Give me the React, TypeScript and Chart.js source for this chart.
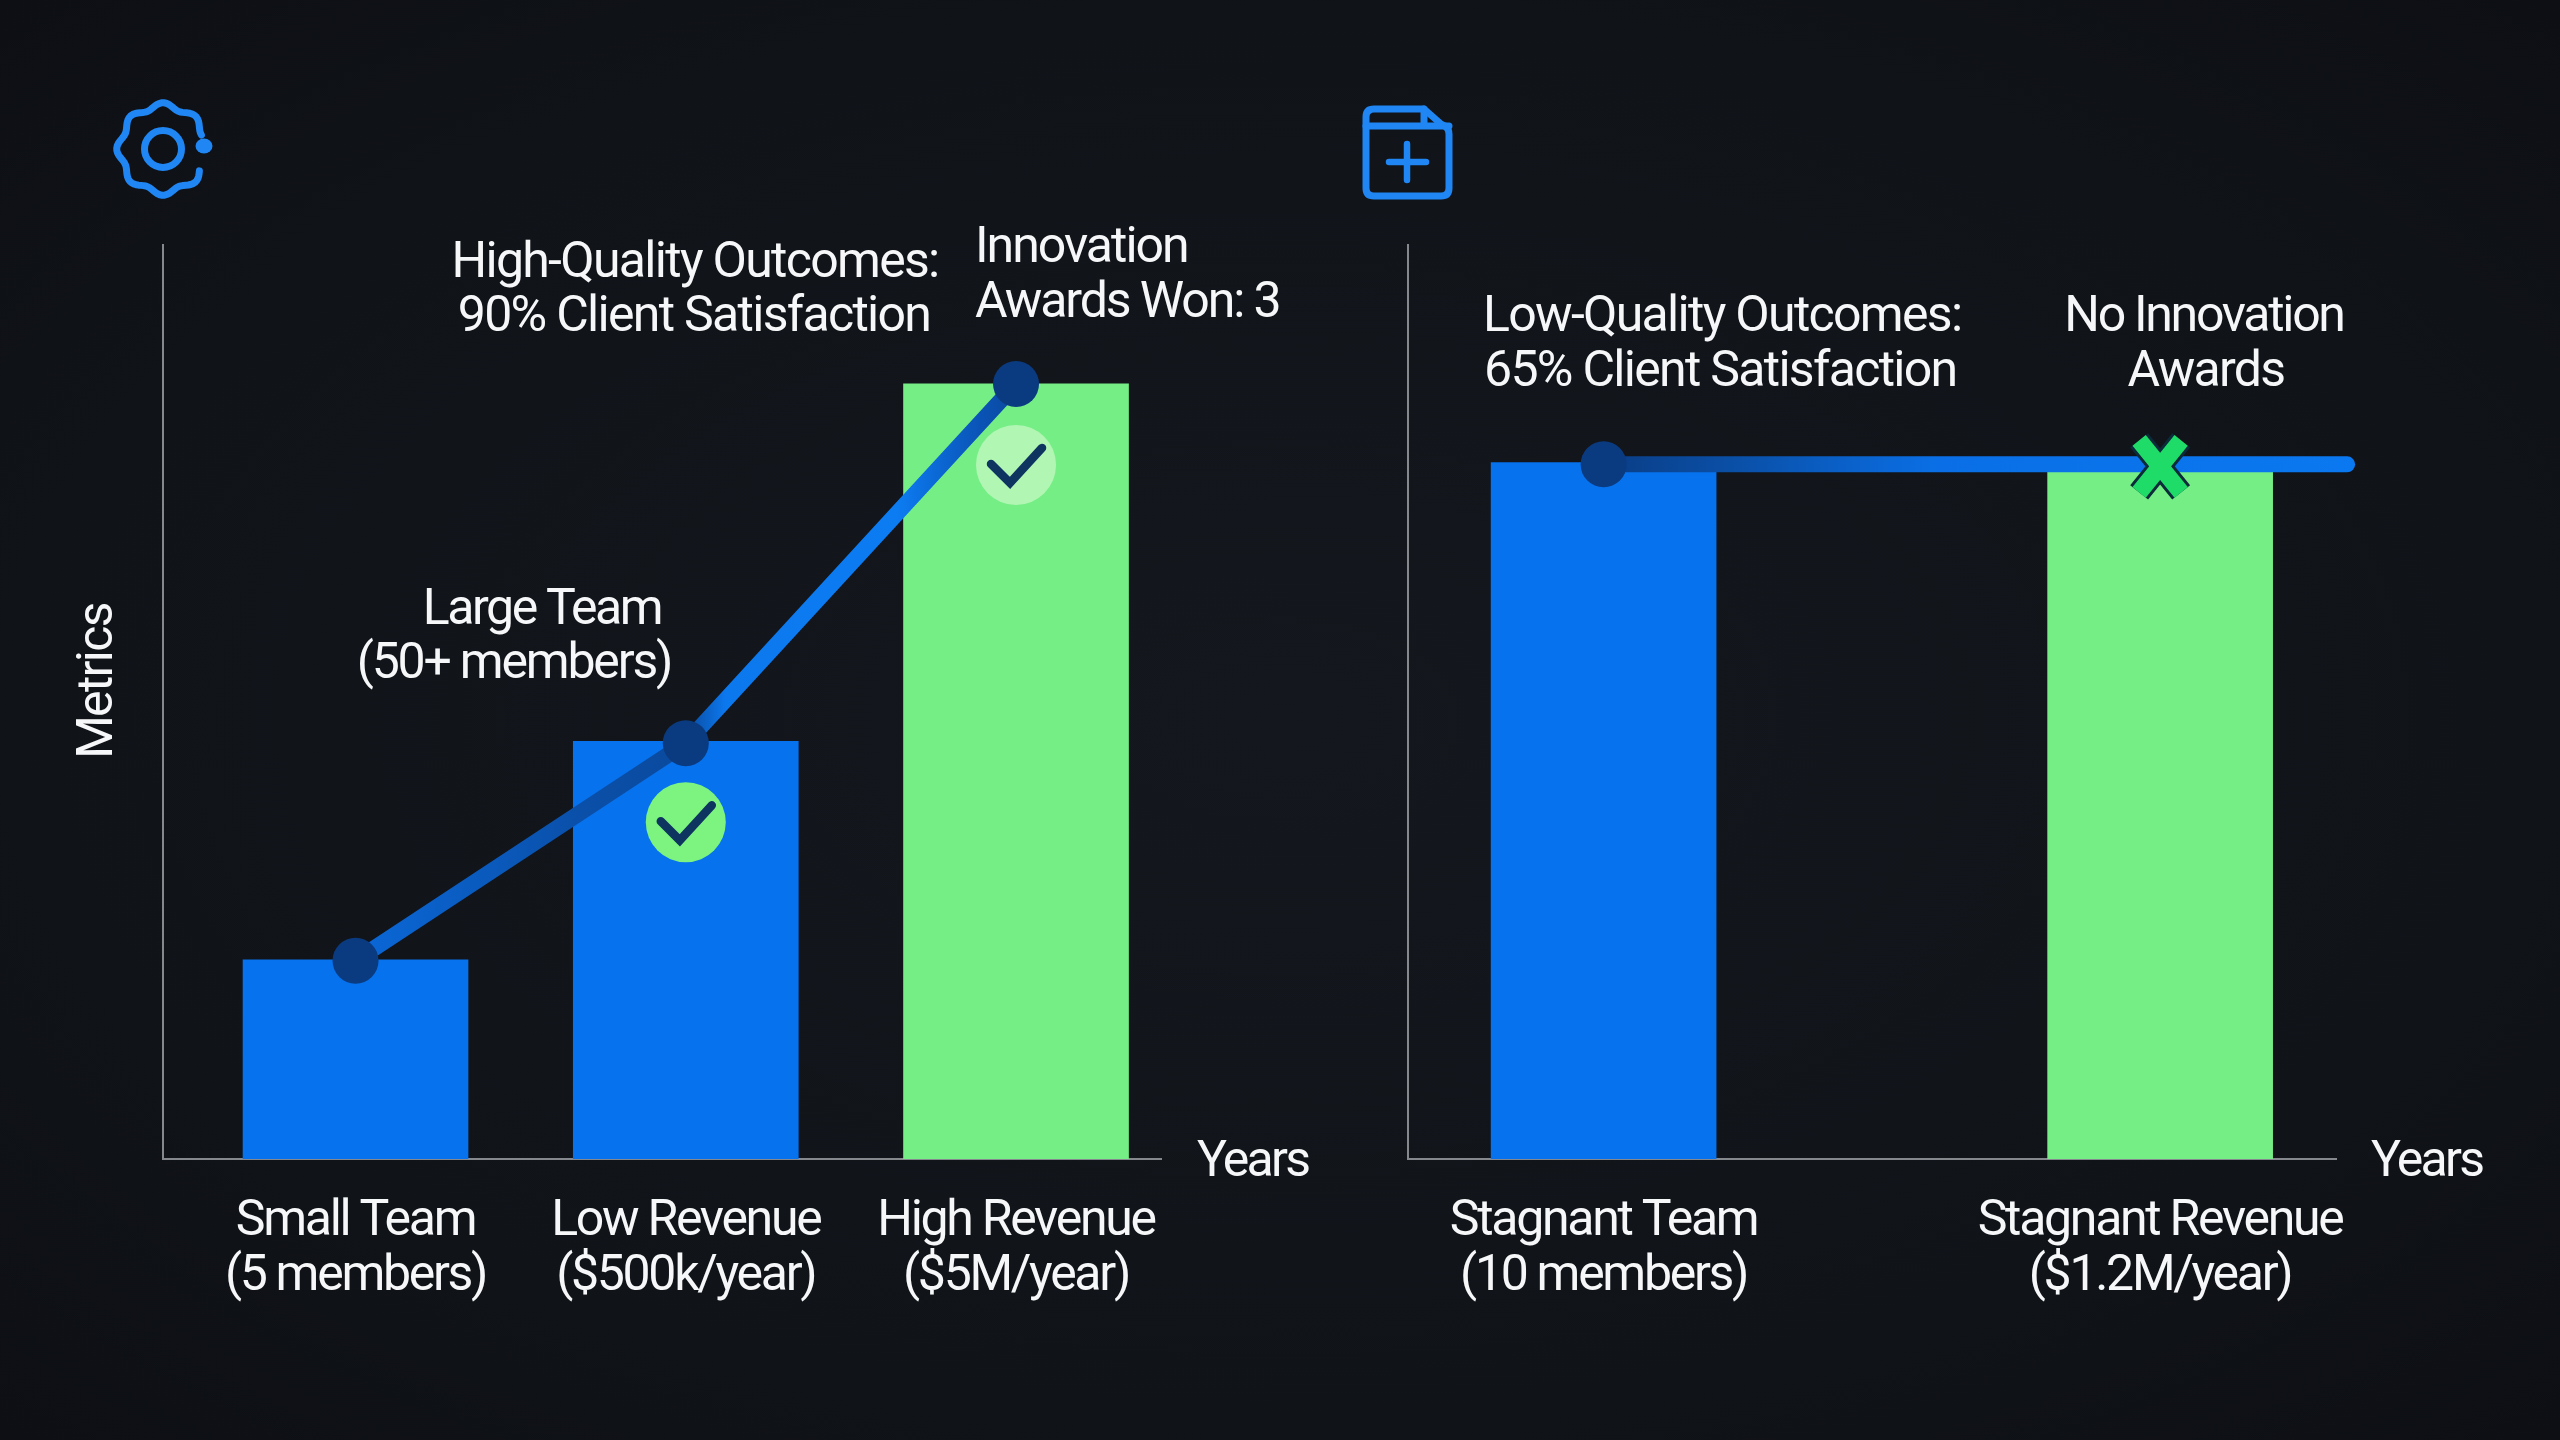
import React, { useEffect, useRef } from "react";
import { Chart, registerables } from "chart.js";

Chart.register(...registerables);

// ---- data ----
const leftCategories = [["Small Team", "(5 members)"], ["Low Revenue", "($500k/year)"], ["High Revenue", "($5M/year)"]];
const leftBarPositions = [1, 2, 3];
const leftBarValues = [21.8, 45.7, 84.8];
const leftLinePositions = [1, 2, 3];
const leftLineValues = [21.7, 45.5, 84.8];

const rightCategories = [["Stagnant Team", "(10 members)"], ["Stagnant Revenue", "($1.2M/year)"]];
const rightBarPositions = [1, 2];
const rightBarValues = [76.2, 76.2];
const rightLinePositions = [1, 2, 2.336];
const rightLineValues = [76.0, 76.0, 76.0];

// ---- style ----
const BLUE = "#0672ee";
const GREEN = "#75ee86";
const POINT = "#0a3b80";
const AXIS = "#85888d";
const TEXT = "#f6f7f8";
const ICON = "#1f86f3";
const FONT = "Roboto";
const FS = 50;
const SPACING = "-1.7px";
const TICK_SPACING = "-2.3px";

type Label = { t: string; x: number; y: number; a?: CanvasTextAlign; s?: string };

const leftLabels: Label[] = [
  { t: "High-Quality Outcomes:", x: 695, y: 264 },
  { t: "90% Client Satisfaction", x: 694, y: 318 },
  { t: "Innovation", x: 975, y: 249, a: "left", s: "-2px" },
  { t: "Awards Won: 3", x: 975, y: 304, a: "left", s: "-2.1px" },
  { t: "Large Team", x: 542, y: 611, s: "-2.4px" },
  { t: "(50+ members)", x: 514, y: 665, s: "-2.2px" },
  { t: "Years", x: 1197, y: 1163, a: "left", s: "-2.7px" },
];
const rightLabels: Label[] = [
  { t: "Low-Quality Outcomes:", x: 1483, y: 318, a: "left" },
  { t: "65% Client Satisfaction", x: 1484, y: 373, a: "left" },
  { t: "No Innovation", x: 2204, y: 318, s: "-2.3px" },
  { t: "Awards", x: 2206, y: 373 },
  { t: "Years", x: 2371, y: 1163, a: "left", s: "-2.7px" },
];

function drawGear(ctx: CanvasRenderingContext2D) {
  const cx = 163, cy = 149;
  ctx.strokeStyle = ICON;
  ctx.fillStyle = ICON;
  ctx.lineCap = "round";
  ctx.lineJoin = "round";
  ctx.lineWidth = 7;
  ctx.beginPath();
  ctx.arc(cx, cy, 18.5, 0, Math.PI * 2);
  ctx.stroke();
  ctx.beginPath();
  for (let d = -20; d >= -330; d -= 3) {
    const th = (d * Math.PI) / 180;
    const r = 43.5 + 2.8 * Math.cos(((d + 90) * 8 * Math.PI) / 180);
    const x = cx + r * Math.cos(th);
    const y = cy + r * Math.sin(th);
    if (d === -20) ctx.moveTo(x, y);
    else ctx.lineTo(x, y);
  }
  ctx.stroke();
  ctx.beginPath();
  ctx.ellipse(204, 146, 8.5, 7.5, 0, 0, Math.PI * 2);
  ctx.fill();
}

function drawFile(ctx: CanvasRenderingContext2D) {
  ctx.strokeStyle = ICON;
  ctx.lineCap = "round";
  ctx.lineJoin = "round";
  ctx.lineWidth = 7;
  const l = 1366, r = 1449, t = 109, b = 196, k = 8;
  ctx.beginPath();
  ctx.moveTo(l + k, t);
  ctx.lineTo(1424, t);
  ctx.lineTo(1441, 124);
  ctx.quadraticCurveTo(r, 127, r, 134);
  ctx.lineTo(r, b - k);
  ctx.quadraticCurveTo(r, b, r - k, b);
  ctx.lineTo(l + k, b);
  ctx.quadraticCurveTo(l, b, l, b - k);
  ctx.lineTo(l, t + k);
  ctx.quadraticCurveTo(l, t, l + k, t);
  ctx.closePath();
  ctx.stroke();
  ctx.beginPath();
  ctx.moveTo(l, 126);
  ctx.lineTo(r, 126);
  ctx.moveTo(1424, t);
  ctx.lineTo(1424, 126);
  ctx.stroke();
  ctx.lineWidth = 6.5;
  ctx.beginPath();
  ctx.moveTo(1389, 162);
  ctx.lineTo(1426, 162);
  ctx.moveTo(1407, 144);
  ctx.lineTo(1407, 180);
  ctx.stroke();
}

function drawCheck(ctx: CanvasRenderingContext2D, x: number, y: number, fill: string) {
  ctx.fillStyle = fill;
  ctx.beginPath();
  ctx.arc(x, y, 40, 0, Math.PI * 2);
  ctx.fill();
  ctx.strokeStyle = "#0e3560";
  ctx.lineWidth = 8.5;
  ctx.lineCap = "round";
  ctx.lineJoin = "miter";
  ctx.beginPath();
  ctx.moveTo(x - 25, y - 1);
  ctx.lineTo(x - 6, y + 18);
  ctx.lineTo(x + 26, y - 17);
  ctx.stroke();
}

function drawCross(ctx: CanvasRenderingContext2D, x: number, y: number) {
  const seg = () => {
    ctx.beginPath();
    ctx.moveTo(x - 21, y - 26);
    ctx.lineTo(x + 21, y + 26);
    ctx.moveTo(x + 21, y - 26);
    ctx.lineTo(x - 21, y + 26);
    ctx.stroke();
  };
  ctx.lineCap = "butt";
  ctx.strokeStyle = "#0b2a3a";
  ctx.lineWidth = 23;
  seg();
  ctx.strokeStyle = "#1fdc68";
  ctx.lineWidth = 17;
  seg();
}

function makeGradient(stops: [number, string][], from: number, to: number) {
  return (c: any) => {
    const chart = c.chart;
    const s = chart.scales.x;
    if (!s || !chart.chartArea) return BLUE;
    const g = chart.ctx.createLinearGradient(s.getPixelForValue(from), 0, s.getPixelForValue(to), 0);
    stops.forEach(([p, col]) => g.addColorStop(p, col));
    return g;
  };
}

type PanelProps = {
  originX: number;
  width: number;
  axisLeft: number;
  axisRight: number;
  xMin: number;
  xMax: number;
  categories: string[][];
  barPositions: number[];
  barValues: number[];
  barColors: string[];
  linePositions: number[];
  lineValues: number[];
  pointSizes: number[];
  lineStroke: any;
  labels: Label[];
  decorate: (ctx: CanvasRenderingContext2D, chart: any) => void;
};

function Panel(p: PanelProps) {
  const ref = useRef<HTMLCanvasElement>(null);
  useEffect(() => {
    const overlay = {
      id: "overlay",
      beforeDraw(chart: any) {
        (chart.ctx as any).letterSpacing = TICK_SPACING;
      },
      afterDraw(chart: any) {
        const ctx = chart.ctx as CanvasRenderingContext2D;
        ctx.save();
        ctx.translate(-p.originX, 0);
        ctx.font = `400 ${FS}px ${FONT}`;
        ctx.fillStyle = TEXT;
        ctx.textBaseline = "middle";
        p.labels.forEach((l) => {
          (ctx as any).letterSpacing = l.s || SPACING;
          ctx.textAlign = l.a || "center";
          ctx.fillText(l.t, l.x, l.y);
        });
        (ctx as any).letterSpacing = SPACING;
        p.decorate(ctx, chart);
        ctx.restore();
      },
    };
    const chart = new Chart(ref.current as HTMLCanvasElement, {
      type: "bar",
      data: {
        datasets: [
          {
            type: "line",
            order: 0,
            data: p.linePositions.map((x, i) => ({ x, y: p.lineValues[i] })),
            borderColor: p.lineStroke,
            borderWidth: 16,
            borderCapStyle: "round",
            tension: 0,
            clip: false,
            pointRadius: p.pointSizes,
            pointBackgroundColor: POINT,
            pointBorderWidth: 0,
          },
          {
            type: "bar",
            order: 1,
            data: p.barPositions.map((x, i) => ({ x, y: p.barValues[i] })),
            backgroundColor: p.barColors,
            barThickness: 225,
            borderWidth: 0,
          },
        ],
      } as any,
      options: {
        responsive: false,
        animation: false,
        devicePixelRatio: 1,
        events: [],
        layout: {
          autoPadding: false,
          padding: { left: p.axisLeft - p.originX, right: p.originX + p.width - p.axisRight, top: 245, bottom: 0 },
        },
        plugins: { legend: { display: false }, tooltip: { enabled: false } },
        scales: {
          x: {
            type: "linear",
            offset: false,
            min: p.xMin,
            max: p.xMax,
            grid: { display: false, offset: false },
            border: { display: true, color: AXIS, width: 2 },
            afterFit: (scale: any) => {
              scale.height = 281;
            },
            afterBuildTicks: (scale: any) => {
              scale.ticks = p.barPositions.map((value) => ({ value }));
            },
            ticks: {
              autoSkip: false,
              maxRotation: 0,
              minRotation: 0,
              padding: 28,
              color: TEXT,
              font: { family: FONT, size: FS, lineHeight: 1.1 },
              callback: (v: any) => p.categories[p.barPositions.indexOf(v)],
            },
          },
          y: {
            min: 0,
            max: 100,
            grid: { display: false },
            border: { display: true, color: AXIS, width: 2 },
            afterFit: (scale: any) => {
              scale.width = 0;
            },
            ticks: { display: false },
          },
        },
      } as any,
      plugins: [overlay],
    } as any);
    return () => chart.destroy();
  }, []);
  return (
    <canvas
      ref={ref}
      width={p.width}
      height={1440}
      style={{ position: "absolute", left: p.originX, top: 0, display: "block" }}
    />
  );
}

export default function App() {
  document.body.style.margin = "0";
  return (
    <div
      style={{
        position: "relative",
        width: 2560,
        height: 1440,
        overflow: "hidden",
        background: "radial-gradient(ellipse at 50% 50%, #14171d 0%, #101318 70%, #0d0f14 100%)",
      }}
    >
      <Panel
        originX={0}
        width={1340}
        axisLeft={163}
        axisRight={1161}
        xMin={0.417}
        xMax={3.439}
        categories={leftCategories}
        barPositions={leftBarPositions}
        barValues={leftBarValues}
        barColors={[BLUE, BLUE, GREEN]}
        linePositions={leftLinePositions}
        lineValues={leftLineValues}
        pointSizes={[23, 23, 23]}
        lineStroke={makeGradient(
          [
            [0, "#0a68d8"],
            [0.35, "#0a4fa8"],
            [0.5, "#0a4a9e"],
            [0.56, "#0c78ee"],
            [0.82, "#0c7cf2"],
            [0.95, "#0a52b4"],
            [1, "#0a4a9e"],
          ],
          1,
          3
        )}
        labels={leftLabels}
        decorate={(ctx, chart) => {
          const { x, y } = chart.scales;
          drawGear(ctx);
          // Metrics axis title
          ctx.save();
          ctx.translate(99, 681);
          ctx.rotate(-Math.PI / 2);
          ctx.textAlign = "center";
          ctx.fillStyle = TEXT;
          ctx.fillText("Metrics", 0, 0);
          ctx.restore();
          drawCheck(ctx, x.getPixelForValue(2), y.getPixelForValue(leftBarValues[1]) + 81, "#7cf47f");
          drawCheck(ctx, x.getPixelForValue(3), y.getPixelForValue(leftBarValues[2]) + 81, "#b2f6b4");
        }}
      />
      <Panel
        originX={1340}
        width={1220}
        axisLeft={1407.5}
        axisRight={2336}
        xMin={0.6476}
        xMax={2.316}
        categories={rightCategories}
        barPositions={rightBarPositions}
        barValues={rightBarValues}
        barColors={[BLUE, GREEN]}
        linePositions={rightLinePositions}
        lineValues={rightLineValues}
        pointSizes={[23, 0, 0]}
        lineStroke={makeGradient(
          [
            [0, "#0a3d85"],
            [0.2, "#0a52ac"],
            [0.45, "#0a6fe6"],
            [1, "#0a78f0"],
          ],
          1,
          2.336
        )}
        labels={rightLabels}
        decorate={(ctx, chart) => {
          const { x, y } = chart.scales;
          drawFile(ctx);
          drawCross(ctx, x.getPixelForValue(2) + 1340, y.getPixelForValue(rightLineValues[1]) + 2);
        }}
      />
    </div>
  );
}
